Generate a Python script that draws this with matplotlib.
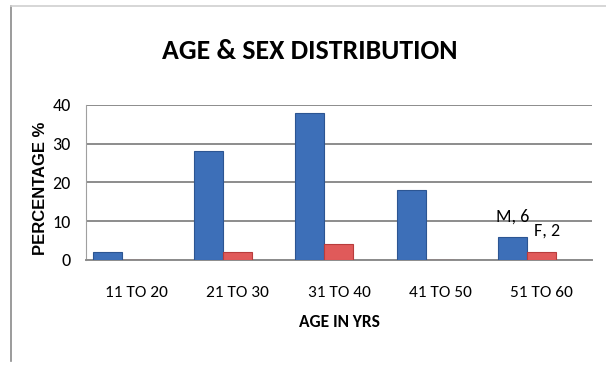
import numpy as np
import matplotlib.pyplot as plt
from matplotlib.lines import Line2D

# data
age_groups = ['11 TO 20', '21 TO 30', '31 TO 40', '41 TO 50', '51 TO 60']
male = [2, 28, 38, 18, 6]
female = [0, 2, 4, 0, 2]
y_ticks = [0, 10, 20, 30, 40]

calib = ['Carlito', 'DejaVu Sans']

fig = plt.figure(figsize=(6.06, 3.65), dpi=100)
ax = fig.add_axes([0.1419, 0.2877, 0.835, 0.4247])

x = np.arange(len(age_groups))
w = 0.285
shift = -0.145
ax.bar(x + shift - w / 2, male, w, color='#3d6fb8', edgecolor='#2c5592', linewidth=0.8, zorder=3)
ax.bar(x + shift + w / 2, female, w, color='#e05a5a', edgecolor='#b83c3c', linewidth=0.8, zorder=3)

ax.set_xlim(-0.5, 4.5)
ax.set_ylim(0, 40)
ax.set_yticks(y_ticks)
ax.set_xticks(x)
ax.set_xticklabels(age_groups, family=calib, fontsize=12.5)
ax.set_yticklabels([str(t) for t in y_ticks], family=calib, fontsize=13)
ax.tick_params(length=0)
ax.tick_params(axis='x', pad=19)
ax.tick_params(axis='y', pad=11)
ax.grid(axis='y', color='#8c8c8c', linewidth=1.4, zorder=0)
for s in ['top', 'right']:
    ax.spines[s].set_visible(False)
ax.spines['left'].set_color('#a0a0a0')
ax.spines['bottom'].set_color('#8c8c8c')
ax.spines['bottom'].set_linewidth(1.4)

ax.set_xlabel('AGE IN YRS', family=calib, fontweight='bold', fontsize=12.5, labelpad=10)
ax.set_ylabel('PERCENTAGE %', family='Liberation Sans', fontweight='bold', fontsize=12)
ax.yaxis.set_label_coords(-0.075, 0.46)

# data labels on the last group
ax.annotate('M, 6', (4 + shift - w / 2, male[4]), xytext=(0, 9), textcoords='offset points',
            ha='center', va='bottom', family=calib, fontsize=13)
ax.annotate('F, 2', (4 + shift + w / 2, female[4]), xytext=(4, 10), textcoords='offset points',
            ha='center', va='bottom', family=calib, fontsize=13)

fig.text(0.511, 0.86, 'AGE & SEX DISTRIBUTION', ha='center', va='center', family=calib,
         fontweight='bold', fontsize=20)

# chart frame edges
fig.add_artist(Line2D([11 / 606, 11 / 606], [0.01, 1 - 6 / 365], color='#8a8a8a', linewidth=1.2))
fig.add_artist(Line2D([11 / 606, 1.0], [1 - 6 / 365, 1 - 6 / 365], color='#d0d0d0', linewidth=1.2))

fig.savefig('out.png', dpi=100)
